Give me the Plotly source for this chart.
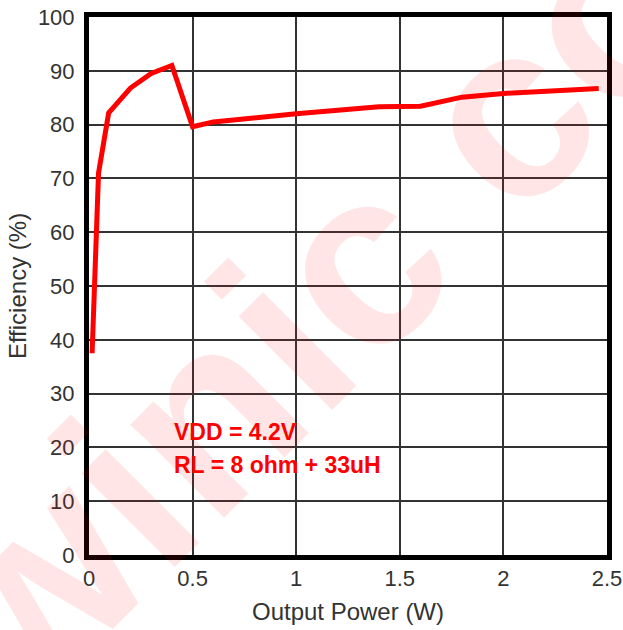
import plotly.graph_objects as go

power_w = [0.015, 0.046, 0.095, 0.2, 0.3, 0.4, 0.5, 0.6, 1.0, 1.2, 1.4, 1.6, 1.8, 2.0, 2.46]
efficiency_pct = [37.5, 71.0, 82.2, 86.8, 89.5, 91.0, 79.6, 80.5, 82.0, 82.7, 83.3, 83.4, 85.1, 85.8, 86.7]

x_ticks = [0, 0.5, 1, 1.5, 2, 2.5]
x_tick_text = ["0", "0.5", "1", "1.5", "2", "2.5"]
y_ticks = [0, 10, 20, 30, 40, 50, 60, 70, 80, 90, 100]

note_lines = ["VDD = 4.2V", "RL = 8 ohm + 33uH"]
watermark = "winic com"

FONT = "Liberation Sans, Arial, sans-serif"

fig = go.Figure()
fig.add_trace(go.Scatter(
    x=power_w, y=efficiency_pct, mode="lines",
    line=dict(color="#ff0000", width=5), showlegend=False,
))

fig.add_annotation(
    text="<b>" + watermark + "</b>", xref="paper", yref="paper", x=0.583, y=0.607,
    showarrow=False, textangle=-45,
    font=dict(family=FONT, size=250, color="rgba(255,0,0,0.1)"),
)
fig.add_annotation(
    text="<b>" + note_lines[0] + "</b>", x=0.40, y=22.9, xanchor="left", yanchor="middle",
    showarrow=False, font=dict(family=FONT, size=23, color="#ff0000"),
)
fig.add_annotation(
    text="<b>" + note_lines[1] + "</b>", x=0.40, y=16.7, xanchor="left", yanchor="middle",
    showarrow=False, font=dict(family=FONT, size=23, color="#ff0000"),
)

axis_common = dict(
    showline=True, linecolor="black", linewidth=5, mirror=True,
    showgrid=True, gridcolor="#333333", gridwidth=1.5, zeroline=False,
    tickfont=dict(family=FONT, size=22, color="#333333"),
)

fig.update_xaxes(
    range=[0, 2.5], tickvals=x_ticks, ticktext=x_tick_text,
    title=dict(text="Output Power (W)", standoff=14,
               font=dict(family=FONT, size=24, color="#333333")),
    ticklabelstandoff=0, automargin=False, **axis_common,
)
fig.update_yaxes(
    range=[0, 100], tickvals=y_ticks,
    title=dict(text="Efficiency (%)", standoff=6,
               font=dict(family=FONT, size=24, color="#333333")),
    ticklabelstandoff=5, automargin="left", **axis_common,
)

fig.update_layout(
    width=623, height=630,
    margin=dict(l=89, r=16, t=17, b=75),
    plot_bgcolor="white", paper_bgcolor="white",
)

fig.write_html("out.html", config={"displayModeBar": False},
               post_script="document.body.style.margin='0';")
